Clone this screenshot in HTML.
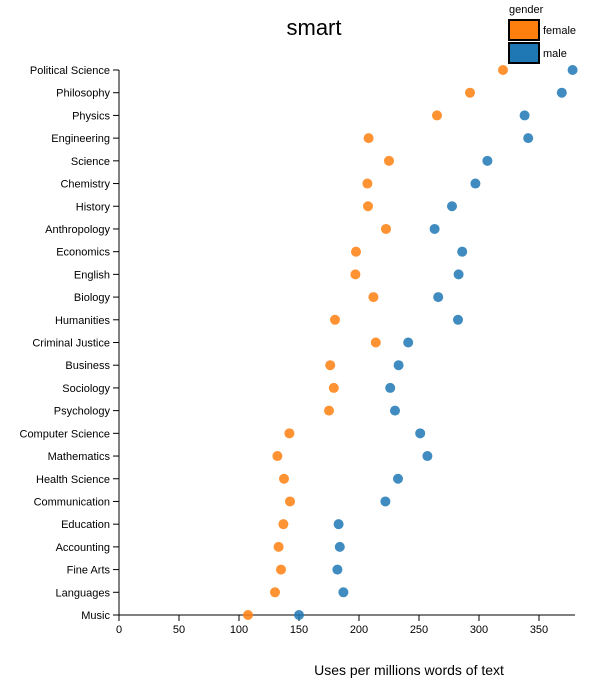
<!DOCTYPE html>
<html><head><meta charset="utf-8"><style>
body{margin:0;background:#fff;font-family:"Liberation Sans",sans-serif}
svg text{font-family:"Liberation Sans",sans-serif}
</style></head><body>
<svg id="chart" width="609" height="689" xmlns="http://www.w3.org/2000/svg">
<text x="314" y="35" text-anchor="middle" font-size="22">smart</text>
<g>
<text x="509" y="13" font-size="11">gender</text>
<rect x="509" y="20" width="30" height="20" fill="#ff7f0e" stroke="#000" stroke-width="2"/>
<text x="543" y="34" font-size="11">female</text>
<rect x="509" y="43" width="30" height="20" fill="#1f77b4" stroke="#000" stroke-width="2"/>
<text x="543" y="57" font-size="11">male</text>
</g>
<g id="plot"></g>
<text x="409" y="675" text-anchor="middle" font-size="14">Uses per millions words of text</text>
</svg>
<script>
const categories=["Political Science","Philosophy","Physics","Engineering","Science","Chemistry","History","Anthropology","Economics","English","Biology","Humanities","Criminal Justice","Business","Sociology","Psychology","Computer Science","Mathematics","Health Science","Communication","Education","Accounting","Fine Arts","Languages","Music"];
const femaleValues=[320,292.5,265,208,225,207,207.5,222.5,197.5,197,212,180,214,176,179,175,142,132,137.5,142.5,137,133,135,130,107.5];
const maleValues=[378,369,338,341,307,297,277.5,263,286,283,266,282.5,241,233,226,230,251,257,232.5,222,183,184,182,187,150];
const xTicks=[0,50,100,150,200,250,300,350];
const NS="http://www.w3.org/2000/svg";
const x0=119,xMaxPx=575,xMaxVal=380,yTop=70,yBot=615;
function xScale(v){return x0+v*(xMaxPx-x0)/xMaxVal;}
function yScale(i){return yTop+i*(yBot-yTop)/(categories.length-1);}
const g=document.getElementById('plot');
function mk(tag,attrs){const e=document.createElementNS(NS,tag);for(const k in attrs)e.setAttribute(k,attrs[k]);g.appendChild(e);return e;}
let a=mk('line',{x1:x0,y1:yTop,x2:x0,y2:yBot,stroke:'#000'});


a=mk('line',{x1:x0,y1:yBot,x2:xMaxPx,y2:yBot,stroke:'#000'});


categories.forEach((c,i)=>{
  const y=yScale(i);
  const t=mk('line',{x1:x0-6,y1:y,x2:x0,y2:y,stroke:'#000'});
  
  
  const l=mk('text',{x:x0-9,y:y+4,'text-anchor':'end','font-size':'11'});
  l.textContent=c;
  
  
});
xTicks.forEach(v=>{
  const x=xScale(v);
  const t=mk('line',{x1:x,y1:yBot,x2:x,y2:yBot+6,stroke:'#000'});
  
  
  const l=mk('text',{x:x,y:yBot+18,'text-anchor':'middle','font-size':'11'});
  l.textContent=v;
  
  
});
categories.forEach((c,i)=>{
  const f=mk('circle',{cx:xScale(femaleValues[i]),cy:yScale(i),r:5,fill:'#ff7f0e','fill-opacity':0.85});
  
  
  const m=mk('circle',{cx:xScale(maleValues[i]),cy:yScale(i),r:5,fill:'#1f77b4','fill-opacity':0.85});
  
  
});
</script>
</body></html>
